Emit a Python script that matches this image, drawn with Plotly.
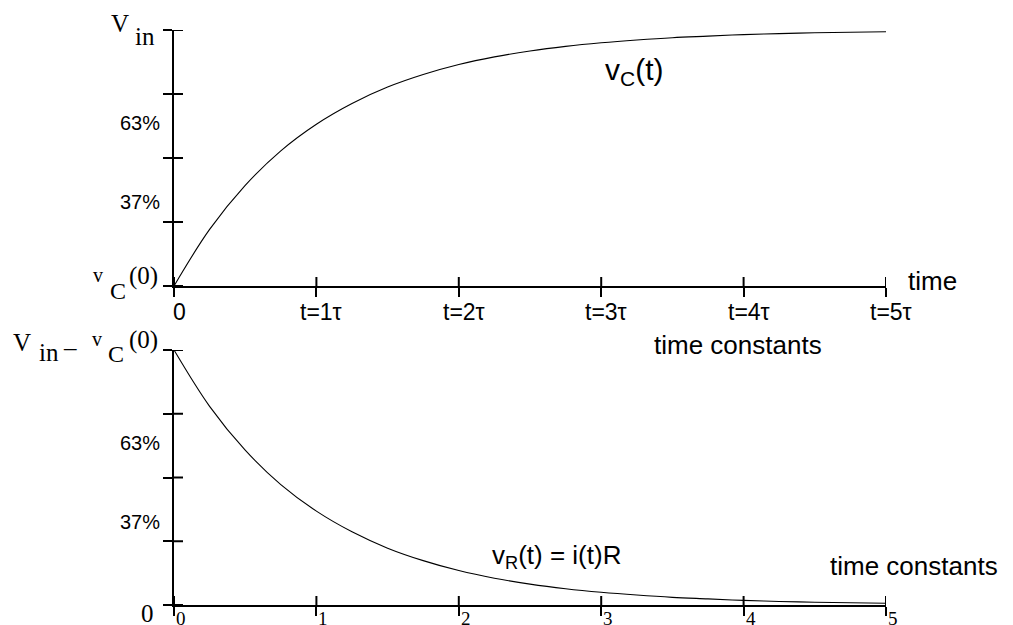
import plotly.graph_objects as go

# values (time in time constants, fraction of V_in)
t_vals = [0, 0.25, 0.5, 0.75, 1, 1.25, 1.5, 1.75, 2, 2.25, 2.5, 2.75, 3,
          3.25, 3.5, 3.75, 4, 4.25, 4.5, 4.75, 5]
vc_vals = [0, 0.221, 0.393, 0.528, 0.632, 0.713, 0.777, 0.826, 0.865, 0.895, 0.918,
           0.936, 0.950, 0.961, 0.970, 0.976, 0.982, 0.986, 0.989, 0.991, 0.993]
vr_vals = [1, 0.779, 0.607, 0.472, 0.368, 0.287, 0.223, 0.174, 0.135, 0.105, 0.082,
           0.064, 0.050, 0.039, 0.030, 0.024, 0.018, 0.014, 0.011, 0.009, 0.007]

x_ticks = [0, 1, 2, 3, 4, 5]
top_xlabels = ["0", "t=1τ", "t=2τ", "t=3τ", "t=4τ", "t=5τ"]
bottom_xlabels = ["0", "1", "2", "3", "4", "5"]
y_ticks = [0, 0.25, 0.5, 0.75, 1]
pct_labels = ["63%", "37%"]

# the page body has an 8px margin, so the figure is shrunk and shifted by it
W, H = 1013, 625
OFF = 8
FW, FH = W - OFF, H - OFF
SANS = "Liberation Sans, Arial, sans-serif"
SERIF = "Liberation Serif, Times New Roman, serif"


def px(x, y):
    """window pixel position -> paper coordinates"""
    return (x - OFF) / FW, 1 - (y - OFF) / FH


def text(x, y, s, size, family=SANS, xanchor="left", yanchor="middle"):
    # free text placed by pixel position
    xp, yp = px(x, y)
    return dict(x=xp, y=yp, xref="paper", yref="paper", text=s, showarrow=False,
                xanchor=xanchor, yanchor=yanchor,
                font=dict(family=family, size=size, color="black"))


fig = go.Figure()

# the two curves
fig.add_trace(go.Scatter(x=t_vals, y=vc_vals, mode="lines", xaxis="x", yaxis="y",
                         line=dict(color="black", width=1.1, shape="spline", smoothing=1)))
fig.add_trace(go.Scatter(x=t_vals, y=vr_vals, mode="lines", xaxis="x2", yaxis="y2",
                         line=dict(color="black", width=1.1, shape="spline", smoothing=1)))

# inner halves of the crossing tick marks (outer halves are the axis ticks)
shapes = []
for xa, ya in [("x", "y"), ("x2", "y2")]:
    for xv in x_ticks:
        shapes.append(dict(type="line", xref=xa, yref=ya, x0=xv, x1=xv,
                           ysizemode="pixel", yanchor=0, y0=0, y1=9,
                           line=dict(color="black", width=2)))
    for yv in y_ticks:
        shapes.append(dict(type="line", xref=xa, yref=ya, y0=yv, y1=yv,
                           xsizemode="pixel", xanchor=0, x0=0, x1=9,
                           line=dict(color="black", width=2)))

annotations = []

# top x tick labels
for xv, lab in zip(x_ticks, top_xlabels):
    annotations.append(dict(x=xv, y=0, xref="x", yref="y", text=lab, showarrow=False,
                            xanchor="center", yanchor="middle", xshift=5, yshift=-26,
                            font=dict(family=SANS, size=23, color="black")))
# bottom x tick labels (small serif, right of the tick, cut by the picture edge)
for xv, lab in zip(x_ticks, bottom_xlabels):
    annotations.append(dict(x=xv, y=0, xref="x2", yref="y2", text=lab, showarrow=False,
                            xanchor="left", yanchor="top", xshift=0, yshift=-1,
                            font=dict(family=SERIF, size=19, color="black")))

# percentage labels on the y axes
for xa, ya, ys in [("x", "y", [0.636, 0.328]), ("x2", "y2", [0.635, 0.325])]:
    for yv, lab in zip(ys, pct_labels):
        annotations.append(dict(x=0, y=yv, xref=xa, yref=ya,
                                text=lab, showarrow=False, xanchor="right",
                                yanchor="middle", xshift=-12,
                                font=dict(family=SANS, size=20, color="black")))

# top plot labels
annotations += [
    text(109, 24, "V", 25, SERIF),
    text(133, 37, "in", 25, SERIF),
    text(91, 275, "v", 20, SERIF),
    text(108, 291, "C", 24, SERIF),
    text(127, 276, "(0)", 25, SERIF),
    text(603, 72, "v<sub>C</sub>(t)", 30),
    text(906, 281, "time", 26),
    text(652, 345, "time constants", 26),
]

# bottom plot labels
annotations += [
    text(11, 342, "V", 25, SERIF),
    text(37, 352, "in", 25, SERIF),
    text(61, 347, "–", 25, SERIF),
    text(90, 339, "v", 20, SERIF),
    text(106, 354, "C", 24, SERIF),
    text(127, 340, "(0)", 25, SERIF),
    text(139, 613, "0", 25, SERIF),
    text(490, 556, "v<sub>R</sub>(t) = i(t)R", 26),
    text(828, 566, "time constants", 26),
]

axis_common = dict(range=[0, 5], showgrid=False, zeroline=False, showline=True,
                   linecolor="black", linewidth=2, showticklabels=False,
                   tickmode="array", tickvals=x_ticks, ticks="outside",
                   ticklen=9, tickwidth=2, tickcolor="black")
yaxis_common = dict(range=[0, 1], showgrid=False, zeroline=False, showline=True,
                    linecolor="black", linewidth=2, showticklabels=False,
                    tickmode="array", tickvals=y_ticks, ticks="outside",
                    ticklen=9, tickwidth=2, tickcolor="black")

x0p, _ = px(174, 0)
x1p, _ = px(886, 0)
_, top0 = px(0, 286)
_, top1 = px(0, 30)
_, bot0 = px(0, 605)
_, bot1 = px(0, 350)

fig.update_layout(
    width=FW,
    height=FH,
    margin=dict(l=0, r=0, t=0, b=0),
    paper_bgcolor="white",
    plot_bgcolor="white",
    showlegend=False,
    xaxis=dict(axis_common, domain=[x0p, x1p], anchor="y"),
    yaxis=dict(yaxis_common, domain=[top0, top1], anchor="x"),
    xaxis2=dict(axis_common, domain=[x0p, x1p], anchor="y2"),
    yaxis2=dict(yaxis_common, domain=[bot0, bot1], anchor="x2"),
    shapes=shapes,
    annotations=annotations,
)

fig.write_html("out.html")
